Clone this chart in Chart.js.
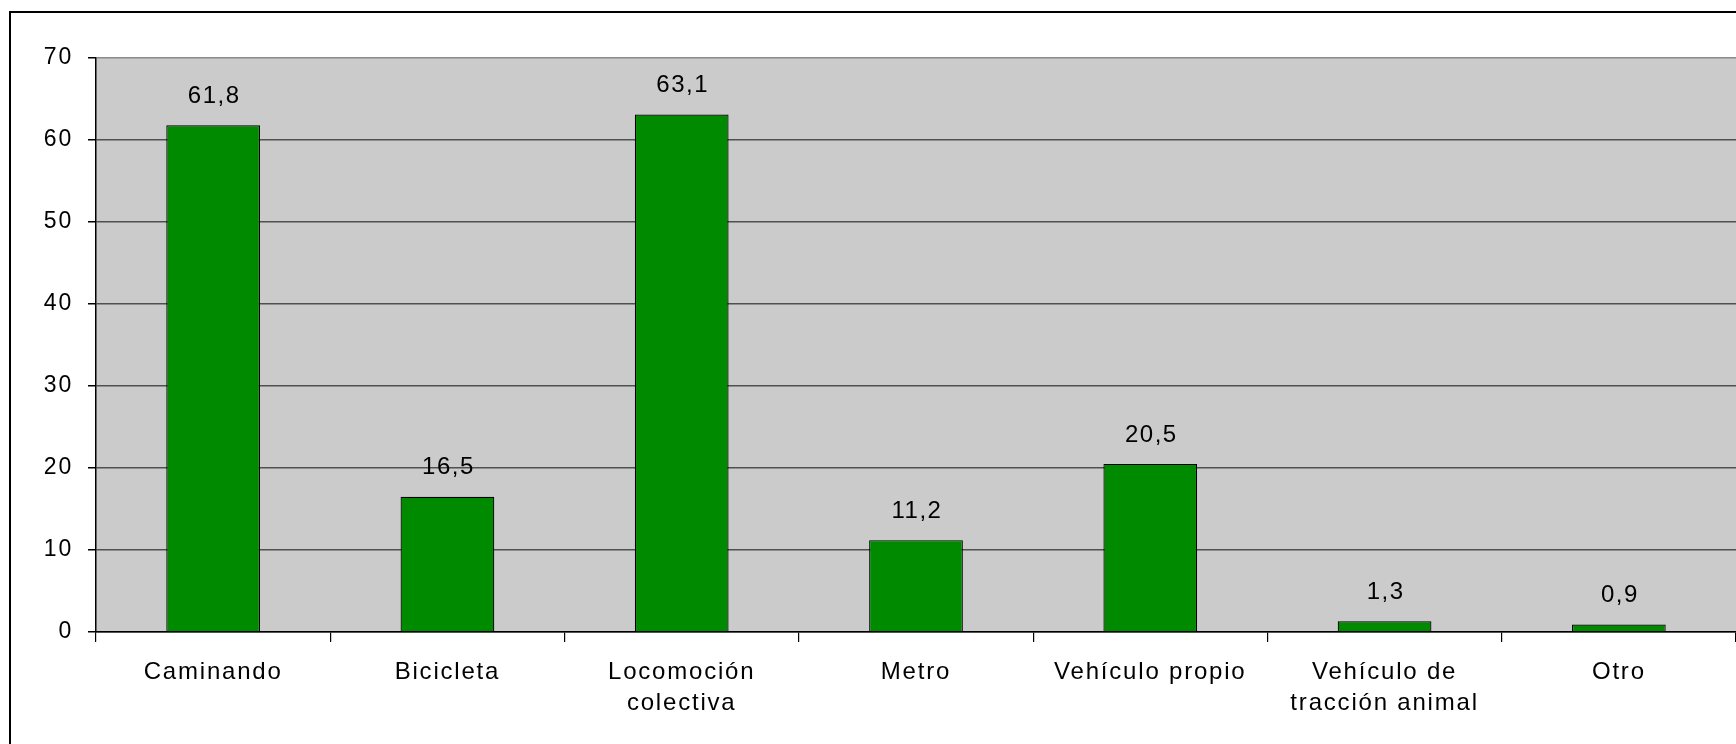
<!DOCTYPE html>
<html>
<head>
<meta charset="utf-8">
<script src="https://cdn.jsdelivr.net/npm/chart.js@4.4.1/dist/chart.umd.min.js"></script>
<style>
  html, body { margin: 0; padding: 0; background: #ffffff; overflow: hidden; }
  #wrap { position: relative; width: 1736px; height: 744px; }
  #frame { position: absolute; left: 9px; top: 11px; width: 1800px; height: 800px;
           border-left: 2px solid #000; border-top: 2px solid #000; box-sizing: border-box; }
  canvas { position: absolute; left: 0; top: 0; }
</style>
</head>
<body>
<div id="wrap">
  <div id="frame"></div>
  <canvas id="c" width="1736" height="744"></canvas>
</div>
<script>
const categories = [
  "Caminando",
  "Bicicleta",
  ["Locomoción", "colectiva"],
  "Metro",
  "Vehículo propio",
  ["Vehículo de", "tracción animal"],
  "Otro"
];
const values = [61.8, 16.5, 63.1, 11.2, 20.5, 1.3, 0.9];
const valueLabels = ["61,8", "16,5", "63,1", "11,2", "20,5", "1,3", "0,9"];
const yMax = 70;
const yStep = 10;

const FONT = "'Liberation Sans', Arial, sans-serif";

const spacingPlugin = {
  id: 'spacing',
  beforeLayout(chart) { chart.ctx.letterSpacing = '1.8px'; },
  beforeDraw(chart) { chart.ctx.letterSpacing = '1.8px'; }
};

const plotBg = {
  id: 'plotBg',
  beforeDraw(chart) {
    const {ctx, chartArea: a} = chart;
    ctx.save();
    ctx.fillStyle = '#cbcbcb';
    ctx.fillRect(a.left, a.top, a.right - a.left, a.bottom - a.top);
    ctx.restore();
  }
};

const valueLabelPlugin = {
  id: 'valueLabels',
  afterDatasetsDraw(chart) {
    const ctx = chart.ctx;
    const meta = chart.getDatasetMeta(0);
    ctx.save();
    ctx.letterSpacing = '1.5px';
    ctx.font = "24px " + FONT;
    ctx.fillStyle = '#000';
    ctx.textAlign = 'center';
    ctx.textBaseline = 'middle';
    meta.data.forEach((bar, i) => {
      ctx.fillText(valueLabels[i], bar.x + 1, bar.y - 29);
    });
    ctx.restore();
  }
};

new Chart(document.getElementById('c'), {
  type: 'bar',
  data: {
    labels: categories,
    datasets: [{
      data: values,
      backgroundColor: '#008a00',
      borderColor: '#000000',
      borderWidth: 1.2,
      categoryPercentage: 1.0,
      barPercentage: 0.40
    }]
  },
  options: {
    responsive: false,
    animation: false,
    devicePixelRatio: 1,
    layout: { padding: { top: 58, left: 0, right: 0, bottom: 0 } },
    plugins: {
      legend: { display: false },
      tooltip: { enabled: false },
      title: { display: false }
    },
    scales: {
      x: {
        afterFit(scale) { scale.height = 112; },
        grid: {
          drawOnChartArea: false,
          drawTicks: true,
          tickLength: 10,
          tickColor: '#000',
          lineWidth: 1.2,
          offset: true
        },
        border: { display: true, color: '#000', width: 1.5 },
        ticks: {
          color: '#000',
          font: { family: FONT, size: 24, lineHeight: 1.3 },
          padding: 15,
          maxRotation: 0,
          autoSkip: false
        }
      },
      y: {
        min: 0,
        max: yMax,
        afterFit(scale) { scale.width = 96; },
        grid: {
          color: (c) => c.tick && c.tick.value === yMax ? '#8a8a8a' : '#505050',
          lineWidth: 1.5,
          tickLength: 8,
          tickColor: '#000'
        },
        border: { display: true, color: '#000', width: 1.5 },
        ticks: {
          stepSize: yStep,
          color: '#000',
          font: { family: FONT, size: 23 },
          padding: 15
        }
      }
    }
  },
  plugins: [spacingPlugin, plotBg, valueLabelPlugin]
});
</script>
</body>
</html>
